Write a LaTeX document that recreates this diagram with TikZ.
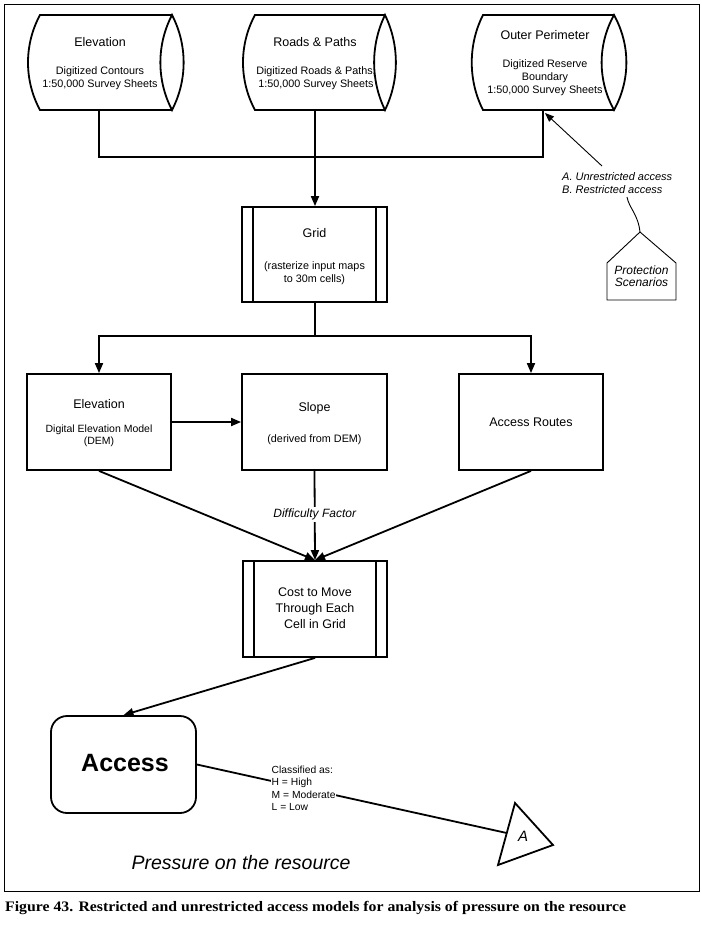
\documentclass[tikz,border=0pt]{standalone}
\usepackage{fontspec}
\setmainfont{Liberation Sans}
\newfontfamily\capfont{Liberation Serif}
\usetikzlibrary{arrows.meta,calc}
\begin{document}
\begin{tikzpicture}[x=1pt,y=-1pt,
  main/.style={line width=1.8pt, line join=miter},
  thinline/.style={line width=0.9pt},
  arr/.style={-{Triangle[length=10pt,width=8pt]}},
  thinarr/.style={-{Triangle[length=9pt,width=7pt]}},
  boxnode/.style={draw, line width=1.8pt, minimum width=144pt, minimum height=96pt, inner sep=0pt},
  ttl/.style={font=\fontsize{12.5}{15}\selectfont, inner sep=0pt},
  bdy/.style={font=\fontsize{10.8}{13}\selectfont, align=center, inner sep=0pt},
  itl/.style={font=\itshape\fontsize{11}{12.3}\selectfont, inner sep=0pt},
]
\useasboundingbox (0,0) rectangle (702,930);
\draw[line width=1pt] (4,4) rectangle (699,891);

% ---- input cylinders ----
\draw[main] (172,15) -- (40,15) .. controls (24,44.6) and (24,80.4) .. (40,110) -- (172,110);
\draw[main] (172,15) .. controls (156.5,44.8) and (156.5,80.2) .. (172,110) .. controls (187.5,80.2) and (187.5,44.8) .. (172,15) -- cycle;
\draw[main] (385,15) -- (255,15) .. controls (239,44.6) and (239,80.4) .. (255,110) -- (385,110);
\draw[main] (385,15) .. controls (370.5,44.8) and (370.5,80.2) .. (385,110) .. controls (399.5,80.2) and (399.5,44.8) .. (385,15) -- cycle;
\draw[main] (614,15) -- (483,15) .. controls (468,44.6) and (468,80.4) .. (483,110) -- (614,110);
\draw[main] (614,15) .. controls (597.5,44.8) and (597.5,80.2) .. (614,110) .. controls (630.5,80.2) and (630.5,44.8) .. (614,15) -- cycle;

\node[ttl] (elevT) at (100,42) {Elevation};
\node[bdy] (elevB) at (100,78.5) {Digitized Contours\\1:50,000 Survey Sheets};
\node[ttl] (roadT) at (315,42) {Roads \& Paths};
\node[bdy] (roadB) at (316,78.5) {Digitized Roads \& Paths,\\1:50,000 Survey Sheets};
\node[ttl] (outT) at (545,35) {Outer Perimeter};
\node[bdy] (outB) at (545,78) {Digitized Reserve\\Boundary\\1:50,000 Survey Sheets};

\coordinate (elevS) at (99,110);
\coordinate (roadS) at (315,110);
\coordinate (outS) at (543,110);
\coordinate (bus1) at (315,157);

% ---- grid ----
\node[boxnode, minimum width=145pt, minimum height=95pt] (grid) at (314.5,254.5) {};
\draw[main] ([xshift=12pt]grid.north west) -- ([xshift=12pt]grid.south west);
\draw[main] ([xshift=-12pt]grid.north east) -- ([xshift=-12pt]grid.south east);
\node[ttl] (gridT) at (314.5,233) {Grid};
\node[bdy] (gridB) at (314.5,273.5) {(rasterize input maps\\to 30m cells)};

\draw[main] (elevS) |- (bus1) -| (outS);
\draw[main,arr] (roadS) -- (roadS |- grid.north);

% ---- protection scenarios ----
\coordinate (pApex) at (640,232);
\draw[thinline] (pApex) -- (607,263) -- (607,300) -- (676,300) -- (676,263) -- cycle;
\node[font=\itshape\fontsize{12}{12.5}\selectfont, align=center, inner sep=0pt] (prot) at (641.5,276) {Protection\\Scenarios};
\node[itl, anchor=west, align=left] (scen) at (562,183) {A. Unrestricted access\\B. Restricted access};
\coordinate (cTop) at (627,197);
\draw[thinline] (pApex) .. controls (638,214) and (629,208) .. (cTop);
\coordinate (aStart) at (602,166);
\coordinate (aTip) at (545,113);
\draw[thinline,thinarr] (aStart) -- (aTip);

% ---- second row ----
\coordinate (bus2) at (315,336);
\node[boxnode] (elev2) at (99,422) {};
\node[boxnode, minimum width=145pt] (slope) at (314.5,422) {};
\node[boxnode] (routes) at (531,422) {};
\draw[main] (bus2 |- grid.south) -- (bus2);
\draw[main,arr] (bus2) -| (elev2.north);
\draw[main,arr] (bus2) -| (routes.north);

\node[ttl] (elev2T) at (99,404) {Elevation};
\node[bdy, font=\fontsize{10.5}{12}\selectfont] (elev2B) at (99,436) {Digital Elevation Model\\(DEM)};
\node[ttl] (slopeT) at (314.5,408) {Slope};
\node[bdy] (slopeB) at (314.5,440) {(derived from DEM)};
\node[ttl] (routesT) at (531,422) {Access Routes};

\draw[main,arr] (elev2.east) -- (slope.west);

% ---- cost ----
\node[boxnode, minimum height=96pt] (cost) at (315,609) {};
\draw[main] ([xshift=12pt]cost.north west) -- ([xshift=12pt]cost.south west);
\draw[main] ([xshift=-12pt]cost.north east) -- ([xshift=-12pt]cost.south east);
\node[font=\fontsize{12.5}{16}\selectfont, align=center, inner sep=0pt] (costT) at (315,608) {Cost to Move\\Through Each\\Cell in Grid};

\draw[main,arr] (elev2.south) -- (cost.north);
\draw[main,arr] (routes.south) -- (cost.north);
\draw[main,arr] (slope.south) -- node[pos=0.49, fill=white, inner sep=2pt, font=\itshape\fontsize{12}{14}\selectfont] (diff) {Difficulty Factor} (cost.north);

% ---- access ----
\node[draw, line width=1.8pt, rounded corners=16pt, minimum width=145pt, minimum height=97pt, inner sep=0pt] (access) at (123.5,764.5) {};
\node[font=\bfseries\fontsize{25}{28}\selectfont, inner sep=0pt] (accT) at (125,763) {Access};
\draw[main,arr] (cost.south) -- (access.north);

% ---- classification and A marker ----
\coordinate (tA) at (515,803);
\coordinate (tB) at (553,845);
\coordinate (tC) at (498,865);
\coordinate (tIn) at ($(tA)!0.484!(tC)$);
\draw[main] (tA) -- (tB) -- (tC) -- cycle;
\node[font=\itshape\fontsize{15}{16}\selectfont, inner sep=0pt] (tLbl) at (523,836) {A};
\draw[main] (access.east) -- (tIn);
\node[font=\fontsize{10.3}{12.3}\selectfont, align=left, anchor=north west, fill=white, inner sep=0.5pt] (cls) at (271,765.5) {Classified as:\\H = High\\M = Moderate\\L = Low};

\node[font=\itshape\fontsize{19.5}{21}\selectfont, inner sep=0pt] (press) at (241,863) {Pressure on the resource};

\node[anchor=base west, inner sep=0pt, font=\capfont\bfseries\fontsize{14.5}{16}\selectfont] (cap) at (5,911) {\scalebox{1.088}[1]{Figure 43. Restricted and unrestricted access models for analysis of pressure on the resource}};
\end{tikzpicture}
\end{document}
